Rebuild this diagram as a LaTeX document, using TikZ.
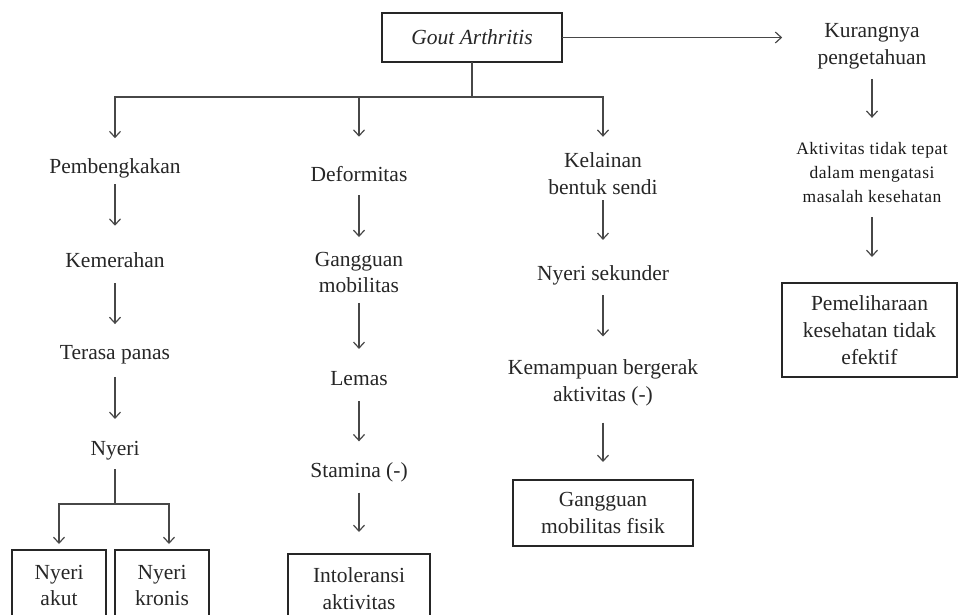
\documentclass[tikz,border=0pt]{standalone}
\usepackage{fontspec}
\setmainfont{Liberation Serif}
\newfontfamily\smallfont[LetterSpace=3]{Liberation Serif}
\usetikzlibrary{arrows.meta}
\begin{document}
\begin{tikzpicture}[x=1pt,y=-1pt,
  txt/.style={inner sep=0pt, outer sep=0pt, align=center, font=\fontsize{21.5}{26.7}\selectfont, text=black!85},
  box/.style={txt, draw=black!85, line width=2.5pt},
  arr/.style={draw=black!72, line width=1.2pt, -{Straight Barb[length=6pt,width=11pt,line width=1.2pt]}},
  ln/.style={draw=black!72, line width=1.2pt}]
\useasboundingbox (0,0) rectangle (958,615);
\clip (0,0) rectangle (958,615);

% top
\node[box, minimum width=180pt, minimum height=49pt, font=\fontsize{21.5}{26.7}\selectfont\itshape] (gout) at (472,37.5) {Gout Arthritis};

% column 1
\node[txt] (pemb) at (115,168) {Pembengkakan};
\node[txt] (kemer) at (115,260) {Kemerahan};
\node[txt] (terasa) at (115,355) {Terasa panas};
\node[txt] (nyeri) at (115,451) {Nyeri};
\node[box, minimum width=94pt, minimum height=71pt] (akut) at (59,585.5) {Nyeri\\akut};
\node[box, minimum width=94pt, minimum height=71pt] (kronis) at (162,585.5) {Nyeri\\kronis};

% column 2
\node[txt] (deform) at (359,174) {Deformitas};
\node[txt] (ggm) at (359,272.5) {Gangguan\\mobilitas};
\node[txt] (lemas) at (359,379) {Lemas};
\node[txt] (stamina) at (359,472) {Stamina (-)};
\node[box, minimum width=142pt, minimum height=69pt] (intol) at (359,588.5) {Intoleransi\\aktivitas};

% column 3
\node[txt] (kelainan) at (603,173.5) {Kelainan\\bentuk sendi};
\node[txt] (nsek) at (603,275) {Nyeri sekunder};
\node[txt] (kemamp) at (603,383) {Kemampuan bergerak\\aktivitas (-)};
\node[box, minimum width=180pt, minimum height=66pt] (gmf) at (603,513) {Gangguan\\mobilitas fisik};

% column 4
\node[txt] (kurang) at (872,46.5) {Kurangnya\\pengetahuan};
\node[txt, text=black!90, font=\smallfont\fontsize{17.5}{24}\selectfont] (aktiv) at (872,172.5) {Aktivitas tidak tepat\\dalam mengatasi\\masalah kesehatan};
\node[box, minimum width=175pt, minimum height=94pt] (pemel) at (869.5,330) {Pemeliharaan\\kesehatan tidak\\efektif};

% connectors
\coordinate (bus) at (472,97);
\draw[ln] (gout.south) -- (bus);
\draw[arr, shorten >=20] (bus) -| (pemb.north);
\draw[arr, shorten >=29.6] (bus) -| (deform.north);
\draw[arr, shorten >=15.8] (bus) -| (kelainan.north);

\draw[arr, shorten <=6.3, shorten >=26.7] (pemb.south) -- (kemer.north);
\draw[arr, shorten <=15.7, shorten >=21.6] (kemer.south) -- (terasa.north);
\draw[arr, shorten <=12.6, shorten >=22.6] (terasa.south) -- (nyeri.north);
\coordinate (nj) at (115,504);
\draw[ln, shorten <=8.6] (nyeri.south) -- (nj);
\draw[arr, shorten >=6] (nj) -| (akut.north);
\draw[arr, shorten >=6] (nj) -| ([xshift=7pt]kronis.north);

\draw[arr, shorten <=13.6, shorten >=14.9] (deform.south) -- (ggm.north);
\draw[arr, shorten <=9.9, shorten >=22.9] (ggm.south) -- (lemas.north);
\draw[arr, shorten <=14.9, shorten >=20.9] (lemas.south) -- (stamina.north);
\draw[arr, shorten <=10.8, shorten >=22] (stamina.south) -- (intol.north);

\draw[arr, shorten <=5.8, shorten >=25.3] (kelainan.south) -- (nsek.north);
\draw[arr, shorten <=10.3, shorten >=23.4] (nsek.south) -- (kemamp.north);
\draw[arr, shorten <=16.4, shorten >=18] (kemamp.south) -- (gmf.north);

\draw[arr, shorten >=35.5] (gout.east) -- (gout.east -| kurang.west);
\draw[arr, shorten <=9.7, shorten >=24.5] (kurang.south) -- (aktiv.north);
\draw[arr, shorten <=14.5, shorten >=26] (aktiv.south) -- (aktiv.south |- pemel.north);
\end{tikzpicture}
\end{document}
